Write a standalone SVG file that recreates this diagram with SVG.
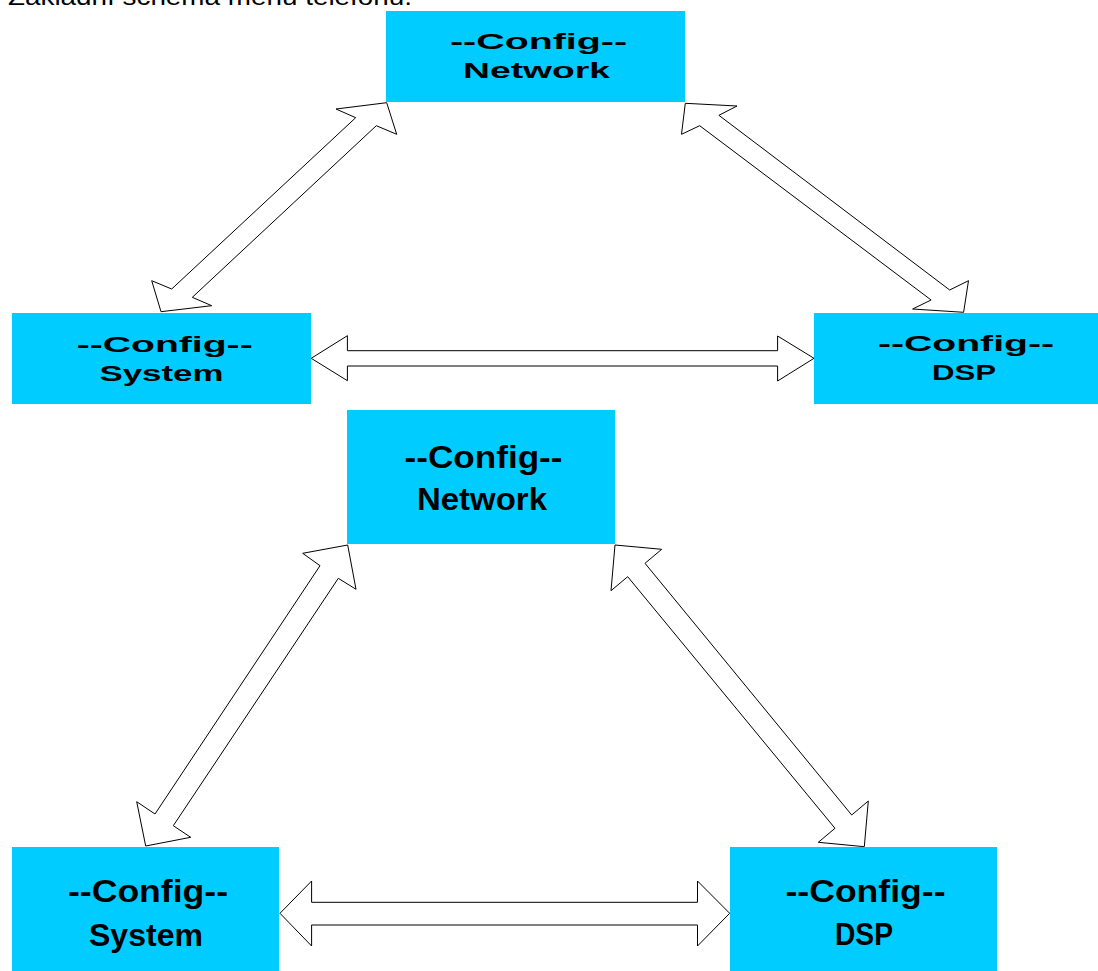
<svg xmlns="http://www.w3.org/2000/svg" width="1098" height="971" viewBox="0 0 1098 971">
<style>
.box{fill:#00CCFF;}
.lbl{font-family:"Liberation Sans",Arial,sans-serif;font-weight:bold;fill:#000;text-anchor:middle;}
.t{font-size:22px;}
.b{font-size:32px;}
.arr{fill:#fff;stroke:#000;stroke-width:1;stroke-linejoin:miter;}
.cap{font-family:"Liberation Sans",Arial,sans-serif;font-size:24px;fill:#000;}
</style>
<rect width="1098" height="971" fill="#fff"/>
<text class="cap" x="8" y="5" textLength="404" lengthAdjust="spacingAndGlyphs">Základní schema menu telefonu.</text>

<g id="connectors">
<polygon class="arr" points="386.7,102.7 336,109 355.7,117.7 171.7,289 151.7,280.7 161,311.7 211.7,305.7 192.3,297.3 376.3,125.7 396.7,134.3"/>
<polygon class="arr" points="685.3,103.3 737,106 718.9,115.3 949.7,290 968.5,280.7 963.6,312.3 912.6,309 931.1,300 699.7,125.7 681.5,134.3"/>
<polygon class="arr" points="311.2,358.3 347.4,335.7 347.4,350.7 777.6,350.7 777.6,336 814,358.3 777.6,381 777.6,366 347.4,366 347.4,380.7"/>
<polygon class="arr" points="347.7,545 302.7,553.3 320,565.7 155,814 136.7,801.7 145.7,846 190.7,837.3 173.3,825.7 338.3,578.3 356,589.3"/>
<polygon class="arr" points="615,545 661.7,549.3 645,563.3 851.7,815 868.3,801 864.3,846.7 818.3,842.3 835,828.3 627.7,576.7 611,590.7"/>
<polygon class="arr" points="280,913.3 311.6,881 311.6,902.3 697.5,902.3 697.5,881 729.7,913.3 697.5,946 697.5,925 311.6,925 311.6,946"/>
</g>

<g id="network1">
<rect class="box" x="386" y="11" width="299" height="91"/>
<text class="lbl t" x="538.5" y="49" textLength="177" lengthAdjust="spacingAndGlyphs">--Config--</text>
<text class="lbl t" x="536.5" y="78" textLength="147" lengthAdjust="spacingAndGlyphs">Network</text>
</g>
<g id="system1">
<rect class="box" x="12" y="313" width="299" height="91"/>
<text class="lbl t" x="164.7" y="352" textLength="176" lengthAdjust="spacingAndGlyphs">--Config--</text>
<text class="lbl t" x="161.4" y="381" textLength="124" lengthAdjust="spacingAndGlyphs">System</text>
</g>
<g id="dsp1">
<rect class="box" x="814" y="313" width="284" height="91"/>
<text class="lbl t" x="966" y="351" textLength="176" lengthAdjust="spacingAndGlyphs">--Config--</text>
<text class="lbl t" x="964" y="380" textLength="64" lengthAdjust="spacingAndGlyphs">DSP</text>
</g>

<g id="network2">
<rect class="box" x="347" y="410" width="268" height="134"/>
<text class="lbl b" x="483.5" y="468" textLength="158" lengthAdjust="spacingAndGlyphs">--Config--</text>
<text class="lbl b" x="482" y="510" textLength="130" lengthAdjust="spacingAndGlyphs">Network</text>
</g>
<g id="system2">
<rect class="box" x="12" y="847" width="267" height="124"/>
<text class="lbl b" x="148" y="902" textLength="160" lengthAdjust="spacingAndGlyphs">--Config--</text>
<text class="lbl b" x="146" y="946" textLength="114" lengthAdjust="spacingAndGlyphs">System</text>
</g>
<g id="dsp2">
<rect class="box" x="730" y="847" width="267" height="124"/>
<text class="lbl b" x="865.5" y="902" textLength="160" lengthAdjust="spacingAndGlyphs">--Config--</text>
<text class="lbl b" x="864" y="945" textLength="58" lengthAdjust="spacingAndGlyphs">DSP</text>
</g>
</svg>
